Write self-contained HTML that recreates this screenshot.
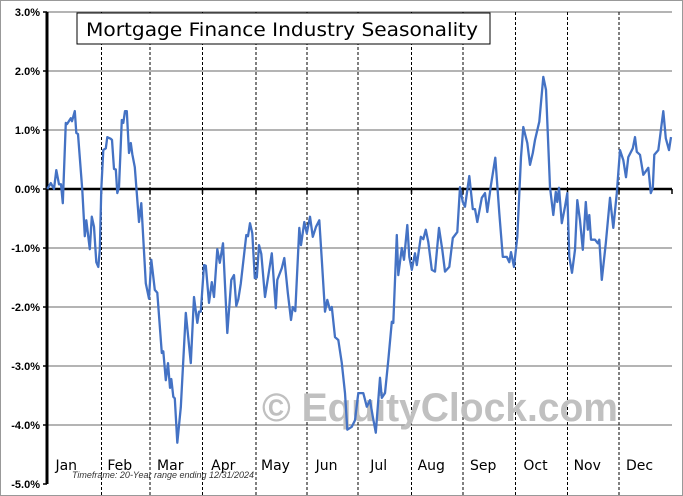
<!DOCTYPE html>
<html><head><meta charset="utf-8"><style>
body{margin:0;background:#fff;}
#c{position:relative;width:683px;height:496px;overflow:hidden;font-family:"Liberation Sans",sans-serif;}
svg{position:absolute;left:0;top:0;}
</style></head><body>
<div id="c">
<svg id="s" width="683" height="496"></svg>
</div>
<script>
const yTicks=[3,2,1,0,-1,-2,-3,-4,-5];
const months=["Jan","Feb","Mar","Apr","May","Jun","Jul","Aug","Sep","Oct","Nov","Dec"];
const monthStarts=[0,21.8,41.2,62.2,83.6,104,124.4,145.8,166.4,187.4,208.2,228.8,250];
const days=[0.1,1.5,2.8,3.7,4.8,5.6,6.3,7.5,8,9.5,10,11.1,11.7,12.4,14.1,15.1,15.7,17.1,17.9,18.8,19.7,20.5,21.1,21.7,22.5,23.5,24.1,25.5,26,26.8,27.5,28.1,28.8,29.9,30.5,31.2,31.9,32.8,33.5,34.1,35.1,36.8,37.7,39.5,40.8,41.7,42.5,43.1,44.1,45.9,46.5,47.5,48.4,49.2,49.7,50.5,51.1,52.1,53.5,55.5,57.5,58.8,60.1,60.8,61.5,62.8,63.5,64.8,65.9,66.8,68.1,69.1,70.4,72.1,73.7,74.8,75.7,76.5,77.5,79.7,80.4,81.2,82.1,83.1,83.9,84.8,85.7,87.2,89.9,91.5,92.1,93.9,94.9,96.3,97.6,98.3,99.3,100.9,101.6,102.9,103.9,105.2,106.3,107.6,108.9,109.9,111.2,112.1,113.2,113.9,115.2,116.5,117.9,119.2,120.1,121.9,123.2,124.5,126.5,127.9,129.2,130.3,131.5,133.2,133.9,135.2,136.5,137.9,138.5,139.9,140.5,141.9,142.8,144.1,144.9,145.9,147.2,147.9,149.5,150.5,151.5,152.5,153.9,155.2,156.8,158.1,159.2,160.9,162.3,164.1,165.2,166.3,167.2,168.9,170.3,171.2,172.1,173.9,175.2,176.1,177.5,179.3,180.9,182.3,183.9,184.9,185.6,186.8,188.1,189.6,190.5,192.1,193.2,194.3,195.2,196.9,198.5,199.6,201.2,202.5,203.5,204.1,204.8,205.9,207.2,208.1,208.9,210,211.2,212.1,213.2,214.3,215.5,216.3,216.9,217.6,219.2,220.3,220.9,221.9,223.5,225.2,226.5,227.9,229.2,230.5,231.6,232.5,234.3,235.2,235.9,237.2,238.5,240.5,241.5,242.3,242.9,244.5,245.2,246.5,247.5,248.8,249.6];
const values=[0,0.1,0,0.32,0.08,0.08,-0.24,1.12,1.1,1.2,1.15,1.32,0.95,0.93,-0.02,-0.8,-0.53,-1.02,-0.47,-0.64,-1.24,-1.32,-1.03,0,0.66,0.69,0.88,0.85,0.83,0.34,0.33,-0.07,0.03,1.17,1.12,1.32,1.32,0.61,0.78,0.59,0.37,-0.56,-0.24,-1.6,-1.86,-1.2,-1.49,-1.71,-1.76,-2.78,-2.75,-3.24,-2.95,-3.37,-3.22,-3.52,-3.55,-4.3,-3.7,-2.1,-2.95,-1.83,-2.27,-2.08,-2.08,-1.29,-1.3,-1.93,-1.58,-1.83,-1.02,-1.25,-0.92,-2.44,-1.54,-1.46,-1.98,-1.87,-1.6,-0.78,-0.8,-0.58,-0.75,-1.51,-1.5,-0.95,-1.1,-1.83,-1.09,-2.02,-1.54,-1.34,-1.17,-1.76,-2.22,-2,-2.07,-0.66,-0.95,-0.56,-0.75,-0.47,-0.81,-0.64,-0.53,-1.2,-2.08,-1.88,-2.05,-2,-2.51,-2.56,-2.95,-3.46,-4.08,-4.03,-3.92,-3.46,-3.46,-3.69,-3.58,-3.86,-4.13,-3.2,-3.54,-3.46,-2.9,-2.25,-2.27,-0.78,-1.46,-1,-1.2,-0.61,-1.15,-1.37,-1.09,-1.29,-0.81,-0.85,-0.69,-0.9,-1.37,-1.4,-0.66,-1.03,-1.4,-1.32,-0.83,-0.73,0.03,-0.22,-0.3,0.22,-0.34,-0.34,-0.56,-0.15,-0.07,-0.39,0.05,0.53,-0.41,-1.15,-1.15,-1.24,-1.07,-1.32,-0.81,0.54,1.05,0.78,0.41,0.61,0.83,1.14,1.9,1.68,0.03,-0.44,-0.05,-0.22,0.02,-0.58,-0.3,-0.07,-1.15,-1.42,-1.03,-0.19,-0.53,-1.03,-0.22,-0.69,-0.44,-0.86,-0.86,-0.92,-0.86,-1.54,-0.92,-0.15,-0.66,-0.07,0.66,0.49,0.2,0.54,0.69,0.88,0.63,0.58,0.24,0.36,-0.07,0.02,0.58,0.66,0.88,1.32,0.86,0.66,0.88];

const X0=47,X1=672;
function xS(d){return X0+d*(X1-X0)/250;}
function yS(v){return 189-v*59;}
const NS="http://www.w3.org/2000/svg";
const s=document.getElementById('s');
function el(t,a,p){const e=document.createElementNS(NS,t);for(const k in a)e.setAttribute(k,a[k]);(p||s).appendChild(e);return e;}

const frame=el('rect',{x:0.5,y:0.5,width:682,height:495,fill:'#fff',stroke:'#999'});



yTicks.forEach(v=>{
  if(v===0||v===-5)return;
  const g=el('line',{x1:X0,x2:X1,y1:yS(v),y2:yS(v),stroke:'#888','stroke-width':1.3});
  
  
});
monthStarts.slice(1,12).forEach(d=>{
  const l=el('line',{x1:xS(d),x2:xS(d),y1:12,y2:496,stroke:'#000','stroke-width':1,'stroke-dasharray':'3,2'});
  
  
});
const wm=el('text',{x:262,y:421,'font-size':40,'font-weight':'bold',fill:'#c0c0c0','font-family':'Liberation Sans, sans-serif',textLength:356,lengthAdjust:'spacingAndGlyphs'});
wm.textContent='© EquityClock.com';



const z=el('line',{x1:X0,x2:X1,y1:yS(0),y2:yS(0),stroke:'#000','stroke-width':2.5});


monthStarts.slice(1).forEach(d=>{
  const t=el('line',{x1:xS(d),x2:xS(d),y1:yS(0),y2:yS(0)+5,stroke:'#000','stroke-width':1.5});
  
  
});
const ya=el('line',{x1:X0,x2:X0,y1:yS(3),y2:yS(-5),stroke:'#000','stroke-width':3});


yTicks.forEach(v=>{
  const t=el('line',{x1:X0-4,x2:X0,y1:yS(v),y2:yS(v),stroke:'#000','stroke-width':1.5});
  
  
  const lb=el('text',{x:40,y:yS(v)+4,'text-anchor':'end','font-size':11,'font-weight':'bold',fill:'#000'});
  lb.textContent=v.toFixed(1)+'%';
  
  
});
months.forEach((m,i)=>{
  const t=el('text',{x:(xS(monthStarts[i])+xS(monthStarts[i+1]))/2+(i===0?-8:-6),y:470,'text-anchor':'middle','font-size':14,fill:'#000','font-family':'DejaVu Sans, sans-serif'});
  t.textContent=m;
  
  
});
const pts=days.map((d,i)=>xS(d).toFixed(1)+','+yS(values[i]).toFixed(1)).join(' ');
const line=el('polyline',{points:pts,fill:'none',stroke:'#4472c4','stroke-width':2.3,'stroke-linejoin':'round'});



const tb=el('rect',{x:77,y:13,width:413,height:31,fill:'#fff',stroke:'#000','stroke-width':1});


const tt=el('text',{x:86,y:36,'font-size':19,fill:'#000','font-family':'DejaVu Sans, sans-serif',textLength:392,lengthAdjust:'spacingAndGlyphs'});
tt.textContent='Mortgage Finance Industry Seasonality';


const tf=el('text',{x:72,y:478,'font-size':9,'font-style':'italic',fill:'#333'});
tf.textContent='Timeframe: 20-Year range ending 12/31/2024';


</script>
</body></html>
